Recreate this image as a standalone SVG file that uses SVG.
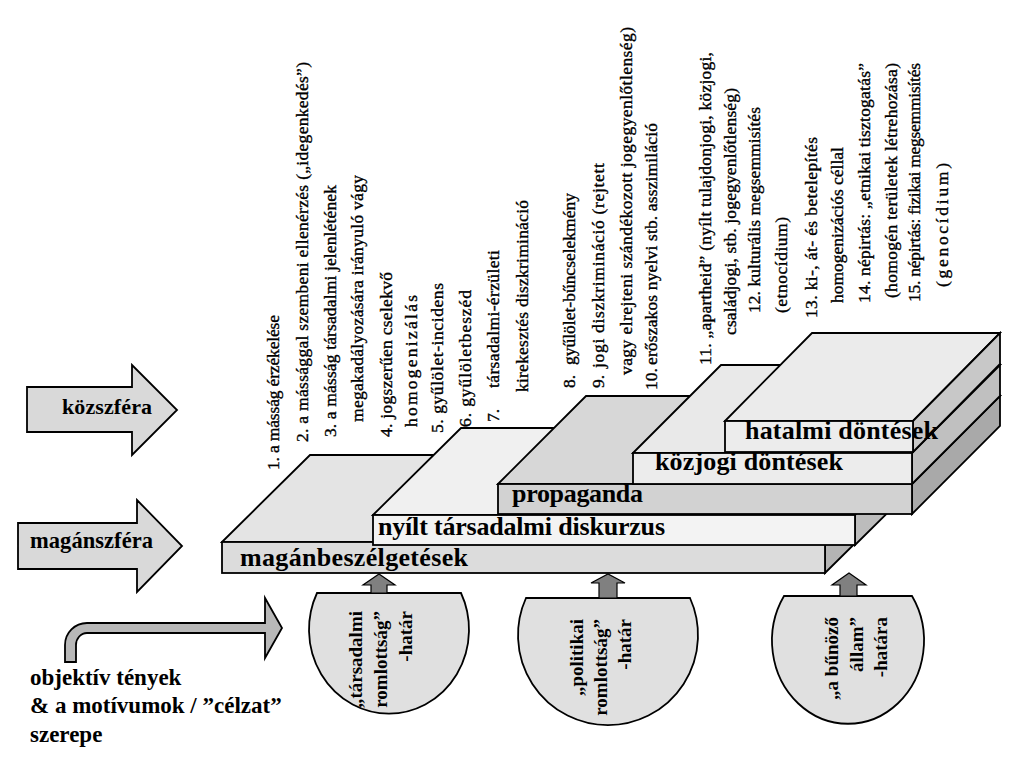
<svg xmlns="http://www.w3.org/2000/svg" width="1024" height="760" viewBox="0 0 1024 760" font-family="'Liberation Serif', 'DejaVu Serif', serif">
<style>
text{font-family:'Liberation Serif','DejaVu Serif',serif}
.ln{stroke:#000;stroke-width:1.8;stroke-linejoin:miter}
.lbl{font-weight:bold;fill:#000}
.sm{font-size:17.5px;fill:#000;stroke:#000;stroke-width:0.35}
.bt{font-weight:bold;font-size:19px;text-anchor:end;fill:#000}
.arr{fill:#d9d9d9;stroke:#000;stroke-width:1.8}
.up{fill:#808080;stroke:#000;stroke-width:1.2}
.half{fill:#e0e0e0;stroke:#000;stroke-width:1.8}
</style>
<rect width="1024" height="760" fill="#fff"/>

<g id="items">
<text class="sm" transform="translate(279,470) rotate(-90)" textLength="155" lengthAdjust="spacing">1. a másság érzékelése</text>
<text class="sm" transform="translate(308,442) rotate(-90)" textLength="380" lengthAdjust="spacing">2. a mássággal szembeni ellenérzés („idegenkedés”)</text>
<text class="sm" transform="translate(336,437) rotate(-90)" textLength="252" lengthAdjust="spacing">3. a másság társadalmi jelenlétének</text>
<text class="sm" transform="translate(363,422) rotate(-90)" textLength="247" lengthAdjust="spacing">megakadályozására irányuló vágy</text>
<text class="sm" transform="translate(392,437) rotate(-90)" textLength="165" lengthAdjust="spacing">4. jogszerűen cselekvő</text>
<text class="sm" transform="translate(417,427) rotate(-90)" textLength="132" lengthAdjust="spacing">homogenizálás</text>
<text class="sm" transform="translate(443,433) rotate(-90)" textLength="150" lengthAdjust="spacing">5. gyűlölet-incidens</text>
<text class="sm" transform="translate(471,427) rotate(-90)" textLength="137" lengthAdjust="spacing">6. gyűlöletbeszéd</text>
<text class="sm" transform="translate(499,422) rotate(-90)">7.</text>
<text class="sm" transform="translate(499,388) rotate(-90)" textLength="138" lengthAdjust="spacing">társadalmi-érzületi</text>
<text class="sm" transform="translate(528,392) rotate(-90)" textLength="192" lengthAdjust="spacing">kirekesztés diszkrimináció</text>
<text class="sm" transform="translate(575,388) rotate(-90)">8.</text>
<text class="sm" transform="translate(575,365) rotate(-90)" textLength="172" lengthAdjust="spacing">gyűlölet-bűncselekmény</text>
<text class="sm" transform="translate(604,388) rotate(-90)">9.</text>
<text class="sm" transform="translate(604,368) rotate(-90)" textLength="205" lengthAdjust="spacing">jogi diszkrimináció  (rejtett</text>
<text class="sm" transform="translate(632,375) rotate(-90)" textLength="348" lengthAdjust="spacing">vagy elrejteni szándékozott jogegyenlőtlenség)</text>
<text class="sm" transform="translate(657,390) rotate(-90)">10.</text>
<text class="sm" transform="translate(657,365) rotate(-90)" textLength="242" lengthAdjust="spacing">erőszakos nyelvi stb. asszimiláció</text>
<text class="sm" transform="translate(711,365) rotate(-90)" textLength="313" lengthAdjust="spacing">11. „apartheid” (nyílt tulajdonjogi, közjogi,</text>
<text class="sm" transform="translate(736,335) rotate(-90)" textLength="247" lengthAdjust="spacing">családjogi, stb. jogegyenlőtlenség)</text>
<text class="sm" transform="translate(760,313) rotate(-90)" textLength="206" lengthAdjust="spacing">12. kulturális megsemmisítés</text>
<text class="sm" transform="translate(787,313) rotate(-90)" textLength="96" lengthAdjust="spacing">(etnocídium)</text>
<text class="sm" transform="translate(817,318) rotate(-90)" textLength="181" lengthAdjust="spacing">13. ki-, át- és betelepítés</text>
<text class="sm" transform="translate(843,303) rotate(-90)" textLength="156" lengthAdjust="spacing">homogenizációs céllal</text>
<text class="sm" transform="translate(870,303) rotate(-90)" textLength="240" lengthAdjust="spacing">14. népirtás: „etnikai tisztogatás”</text>
<text class="sm" transform="translate(897,298) rotate(-90)" textLength="235" lengthAdjust="spacing">(homogén területek létrehozása)</text>
<text class="sm" transform="translate(920,302) rotate(-90)" textLength="239" lengthAdjust="spacing">15. népirtás: fizikai megsemmisítés</text>
<text class="sm" transform="translate(948,287) rotate(-90)" textLength="124" lengthAdjust="spacing">(genocídium)</text>
</g>

<g id="kozszfera">
<polygon class="arr" points="27,387 132,387 132,365 177,410 132,455 132,432 27,432"/>
<text class="lbl" x="62" y="414" font-size="22" textLength="90" lengthAdjust="spacing">közszféra</text>
</g>
<g id="maganszfera">
<polygon class="arr" points="18,523 137,523 137,500 182,546 137,592 137,569 18,569"/>
<text class="lbl" x="30" y="548" font-size="22.5" textLength="123" lengthAdjust="spacing">magánszféra</text>
</g>

<g id="maganbeszelgetesek">
<polygon class="ln" fill="#e4e4e4" points="222,542 310,455 913,455 825,542"/>
<polygon class="ln" fill="#b4b4b4" points="825,542 913,455 913,486 825,573"/>
<rect class="ln" fill="#dcdcdc" x="222" y="542" width="603" height="31"/>
<text class="lbl" x="240" y="566" font-size="26" textLength="228" lengthAdjust="spacing">magánbeszélgetések</text>
</g>
<g id="nyilt">
<polygon class="ln" fill="#f0f0f0" points="373,515 461,428 943,428 855,515"/>
<polygon class="ln" fill="#bcbcbc" points="855,515 943,428 943,458 855,545"/>
<rect class="ln" fill="#f3f3f3" x="373" y="515" width="482" height="30"/>
<text class="lbl" x="378" y="535" font-size="26" textLength="287" lengthAdjust="spacing">nyílt társadalmi diskurzus</text>
</g>
<g id="propaganda">
<polygon class="ln" fill="#d7d7d7" points="498,484 586,396 1000,396 912,484"/>
<polygon class="ln" fill="#a9a9a9" points="912,484 1000,396 1000,426 912,514"/>
<rect class="ln" fill="#d2d2d2" x="498" y="484" width="414" height="30"/>
<text class="lbl" x="512" y="502" font-size="26" textLength="131" lengthAdjust="spacing">propaganda</text>
</g>
<g id="kozjogi">
<polygon class="ln" fill="#e9e9e9" points="633,453 721,365 1000,365 912,453"/>
<polygon class="ln" fill="#c0c0c0" points="912,453 1000,365 1000,396 912,484"/>
<rect class="ln" fill="#ececec" x="633" y="453" width="279" height="31"/>
<text class="lbl" x="655" y="470" font-size="26" textLength="188" lengthAdjust="spacing">közjogi döntések</text>
</g>
<g id="hatalmi">
<polygon class="ln" fill="#ebebeb" points="725,421 812,333 1000,333 913,421"/>
<polygon class="ln" fill="#c8c8c8" points="913,421 1000,333 1000,364 913,452"/>
<rect class="ln" fill="#ececec" x="725" y="421" width="188" height="31"/>
<text class="lbl" x="745" y="439" font-size="26" textLength="193" lengthAdjust="spacing">hatalmi döntések</text>
</g>

<g id="hatar1">
<path class="half" d="M317,593 A80,84 0 1 0 461,593 Z"/>
<text class="bt" transform="translate(362,611) rotate(-90)">„társadalmi</text>
<text class="bt" transform="translate(387,611) rotate(-90)">romlottság”</text>
<text class="bt" transform="translate(412,611) rotate(-90)">-határ</text>
</g>
<g id="hatar2">
<path class="half" d="M526,598 A90,90 0 1 0 690,598 Z"/>
<text class="bt" transform="translate(583,619) rotate(-90)">„politikai</text>
<text class="bt" transform="translate(607,619) rotate(-90)">romlottság”</text>
<text class="bt" transform="translate(631,619) rotate(-90)">-határ</text>
</g>
<g id="hatar3">
<path class="half" d="M784,596 A76,83 0 1 0 912,596 Z"/>
<text class="bt" transform="translate(838,617) rotate(-90)">„a bűnöző</text>
<text class="bt" transform="translate(863,617) rotate(-90)">állam”</text>
<text class="bt" transform="translate(887,617) rotate(-90)">-határa</text>
</g>

<g id="objektiv">
<text class="lbl" x="30" y="685" font-size="23">objektív tények</text>
<text class="lbl" x="30" y="713" font-size="23">&amp; a motívumok / ”célzat”</text>
<text class="lbl" x="30" y="742" font-size="23">szerepe</text>
</g>

<g id="connectors">
<path d="M65,662 L65,645 A22,22 0 0 1 87,623 L265,623 L265,598 L282,628 L265,658 L265,633 L87,633 A11,12 0 0 0 76,645 L76,662 Z" fill="#b8b8b8" stroke="#000" stroke-width="1.8"/>
<polygon class="up" points="371,593 371,585 363,585 379,574 395,585 387,585 387,593"/>
<polygon class="up" points="599,598 599,583 591,583 608,574 625,583 617,583 617,598"/>
<polygon class="up" points="840,596 840,585 832,585 849,573 866,585 857,585 857,596"/>
</g>
</svg>
